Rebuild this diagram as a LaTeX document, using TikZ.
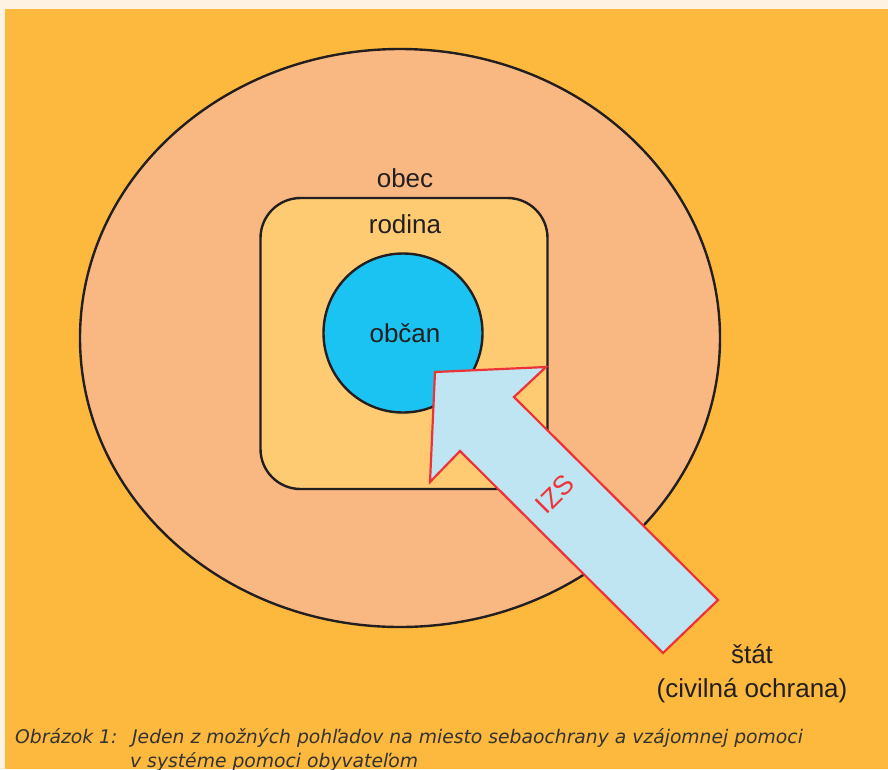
\documentclass[tikz,border=0pt]{standalone}
\usepackage{fontspec}
\setmainfont{Liberation Sans}
\newfontfamily\capfont{DejaVu Sans}
\usetikzlibrary{shapes.geometric}
\definecolor{cream}{HTML}{FEF3E2}
\definecolor{bgorange}{HTML}{FDB83E}
\definecolor{peach}{HTML}{F9B882}
\definecolor{famyellow}{HTML}{FECB72}
\definecolor{citblue}{HTML}{1BC3F2}
\definecolor{arrowblue}{HTML}{C0E5F2}
\definecolor{arrowred}{HTML}{EE3338}
\definecolor{outline}{HTML}{231F20}
\definecolor{captiongray}{HTML}{333333}
\tikzset{
  shapeline/.style={draw=outline, line width=2.4pt},
  lbl/.style={anchor=base, inner sep=0pt, text=outline, font=\fontsize{26}{30}\selectfont},
  captext/.style={anchor=base west, inner sep=0pt, text=captiongray, font=\capfont\fontsize{18.75}{22}\selectfont\itshape},
  bigarrow/.style={draw=arrowred, fill=arrowblue, line width=2.2pt, line join=miter}
}
\begin{document}
\begin{tikzpicture}[x=1pt,y=-1pt]
  \useasboundingbox (0,0) rectangle (888,769);
  \fill[cream] (0,0) rectangle (888,769);
  \fill[bgorange] (5,9) rectangle (888,769);
  % obec
  \node[ellipse, shapeline, fill=peach, minimum width=640pt, minimum height=578pt, inner sep=0pt] (obec) at (400,338) {};
  % rodina
  \node[rectangle, rounded corners=40pt, shapeline, fill=famyellow, minimum width=287pt, minimum height=291pt, inner sep=0pt] (rodina) at (404,343.5) {};
  % obcan
  \node[circle, shapeline, fill=citblue, minimum size=159pt, inner sep=0pt] (obcan) at (403,333) {};
  % IZS arrow
  \draw[bigarrow] (435,372) -- (546,367) -- (514,397) -- (718,600) -- (663,653) -- (460,451) -- (430,482) -- cycle;
  \node[rotate=45, text=arrowred, inner sep=0pt, font=\fontsize{27}{31}\selectfont] (izs) at (555,494) {IZS};
  % labels
  \node[lbl] (obecl) at (405,187) {obec};
  \node[lbl] (rodinal) at (405,233) {rodina};
  \node[lbl] (obcanl) at (405,342) {občan};
  \node[lbl] (stat) at (752,663) {štát};
  \node[lbl] (co) at (752,697) {(civilná ochrana)};
  % caption
  \node[captext] (c1) at (15,743) {Obrázok 1:};
  \node[captext] (c2) at (132,743) {Jeden z možných pohľadov na miesto sebaochrany a vzájomnej pomoci};
  \node[captext] (c3) at (130,767) {v systéme pomoci obyvateľom};
\end{tikzpicture}
\end{document}
